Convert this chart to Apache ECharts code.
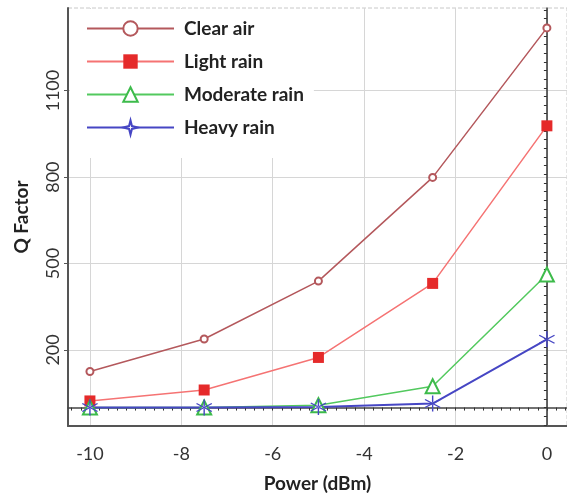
<!DOCTYPE html>
<html>
<head>
  <meta charset="utf-8">
  <title>Q Factor vs Power</title>
  <script src="https://cdn.jsdelivr.net/npm/echarts/dist/echarts.min.js"></script>
  <style>
    html, body { margin: 0; padding: 0; background: #fff; }
    #chart { width: 567px; height: 498px; }
  </style>
</head>
<body>
<div id="chart"></div>
<script>
  // data
  var power = [-10, -7.5, -5, -2.5, 0];
  var clearAir = [125, 238, 439, 799, 1318];
  var lightRain = [23, 61, 174, 431, 978];
  var moderateRain = [0, 0, 8, 74, 462];
  var heavyRain = [0, 0, 2, 14, 237];

  var xTicks = [-10, -8, -6, -4, -2, 0];
  var yTicks = [200, 500, 800, 1100];

  var xMin = -10.48, xMax = 0.44;
  var yMin = -64, yMax = 1387;

  // small ticks along the zero lines
  var xMinor = [];
  for (var i = -52; i <= 2; i++) xMinor.push(+(i * 0.2).toFixed(1));
  var yMinor = [];
  for (var j = -2; j <= 46; j++) yMinor.push(j * 30);

  var starPath = 'path://M0,-1 L0.2,-0.2 L1,0 L0.2,0.2 L0,1 L-0.2,0.2 L-1,0 L-0.2,-0.2 Z';
  var asteriskPath = 'path://M-0.08,-1 L0.08,-1 L0.08,1 L-0.08,1 Z ' +
    'M0.826,0.569 L0.906,0.431 L-0.826,-0.569 L-0.906,-0.431 Z ' +
    'M0.906,-0.431 L0.826,-0.569 L-0.906,0.431 L-0.826,0.569 Z';

  function pairs(ys, sym) {
    return power.map(function (x, k) {
      var d = { value: [x, ys[k]] };
      if (sym) d.symbol = sym;
      return d;
    });
  }

  var chart = echarts.init(document.getElementById('chart'));
  var font = 'Lato, "Open Sans", sans-serif';

  chart.setOption({
    animation: false,
    textStyle: { fontFamily: font },
    grid: {
      left: 68, right: 0, top: 8, bottom: 66,
      show: true, borderColor: '#c8c8c8', borderWidth: 1, borderType: 'dashed'
    },
    legend: {
      orient: 'vertical',
      left: 70, top: 9,
      padding: [10, 10, 21, 16],
      backgroundColor: '#fff',
      itemWidth: 87, itemHeight: 18, itemGap: 14,
      textStyle: { fontFamily: font, fontSize: 19, fontWeight: 'bold', color: '#222', padding: [0, 0, 0, 5] },
      data: ['Clear air', 'Light rain', 'Moderate rain', 'Heavy rain']
    },
    xAxis: [{
      type: 'value', min: xMin, max: xMax,
      name: 'Power (dBm)', nameLocation: 'middle', nameGap: 48,
      nameTextStyle: { fontSize: 19, fontWeight: 'bold', color: '#222' },
      axisLine: { onZero: false, lineStyle: { color: '#555', width: 2 } },
      axisTick: { show: false, customValues: xTicks },
      axisLabel: { customValues: xTicks, fontSize: 18, color: '#333', margin: 19 },
      splitLine: { show: true, customValues: xTicks, lineStyle: { color: '#d6d6d6', width: 1 } }
    }, {
      type: 'value', min: xMin, max: xMax,
      axisLine: { onZero: true, lineStyle: { color: '#444', width: 1.5 } },
      axisTick: { show: true, inside: true, length: 3, customValues: xMinor, lineStyle: { color: '#333' } },
      axisLabel: { show: false },
      splitLine: { show: false }
    }],
    yAxis: [{
      type: 'value', min: yMin, max: yMax,
      name: 'Q Factor', nameLocation: 'middle', nameGap: 37,
      nameTextStyle: { fontSize: 19, fontWeight: 'bold', color: '#222' },
      axisLine: { onZero: false, lineStyle: { color: '#555', width: 2 } },
      axisTick: { show: true, length: 4, customValues: yTicks, lineStyle: { color: '#555' } },
      axisLabel: {
        customValues: yTicks, rotate: 90, fontSize: 18, color: '#333', margin: 6,
        formatter: function (v) { return String(v); }
      },
      splitLine: { show: true, customValues: yTicks, lineStyle: { color: '#d6d6d6', width: 1 } }
    }, {
      type: 'value', min: yMin, max: yMax,
      axisLine: { onZero: true, lineStyle: { color: '#333', width: 1.5 } },
      axisTick: { show: true, inside: true, length: 3, customValues: yMinor, lineStyle: { color: '#333' } },
      axisLabel: { show: false },
      splitLine: { show: false }
    }],
    series: [
      {
        name: 'Clear air', type: 'line', data: pairs(clearAir),
        symbol: 'emptyCircle', symbolSize: 7,
        lineStyle: { color: '#b4585c', width: 1.5 },
        itemStyle: { color: '#b4585c' }
      },
      {
        name: 'Light rain', type: 'line', data: pairs(lightRain),
        symbol: 'rect', symbolSize: 11,
        lineStyle: { color: '#f57373', width: 1.5 },
        itemStyle: { color: '#e52a2a' }
      },
      {
        name: 'Moderate rain', type: 'line', data: pairs(moderateRain),
        symbol: 'emptyTriangle', symbolSize: 14,
        lineStyle: { color: '#52c95e', width: 1.5 },
        itemStyle: { color: '#3dbb4b', borderWidth: 1.5 }
      },
      {
        name: 'Heavy rain', type: 'line', data: pairs(heavyRain, asteriskPath),
        symbol: 'empty' + starPath.charAt(0).toUpperCase() + starPath.slice(1), symbolSize: 16,
        lineStyle: { color: '#4646c4', width: 2 },
        itemStyle: { color: '#4646c4' }
      }
    ]
  });
</script>
</body>
</html>
